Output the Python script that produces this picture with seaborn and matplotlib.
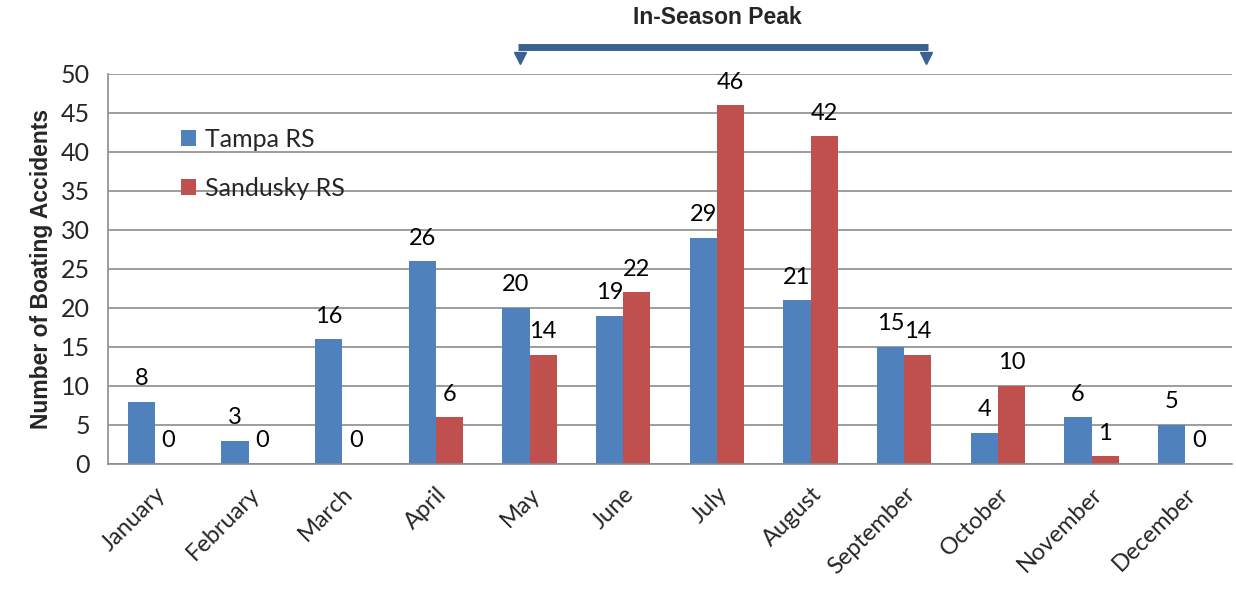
import pandas as pd
import numpy as np
import matplotlib
matplotlib.use("Agg")
import matplotlib.pyplot as plt
import seaborn as sns

months = ["January", "February", "March", "April", "May", "June", "July",
          "August", "September", "October", "November", "December"]
tampa = [8, 3, 16, 26, 20, 19, 29, 21, 15, 4, 6, 5]
sandusky = [0, 0, 0, 6, 14, 22, 46, 42, 14, 10, 1, 0]
series = ["Tampa RS", "Sandusky RS"]
colors = ["#4F81BD", "#C0504D"]

df = pd.DataFrame({
    "Month": months * 2,
    "Accidents": tampa + sandusky,
    "Station": [series[0]] * 12 + [series[1]] * 12,
})

sns.set_style("white")
plt.rcParams["font.family"] = ["Lato", "DejaVu Sans"]

fig = plt.figure(figsize=(12.36, 5.9), dpi=100)
ax = fig.add_axes([0.0874, 0.2136, 0.9094, 0.661])

sns.barplot(data=df, x="Month", y="Accidents", hue="Station", order=months,
            hue_order=series, palette=colors, width=0.58, saturation=1,
            edgecolor="none", ax=ax)

# value labels
for cont in ax.containers:
    ax.bar_label(cont, padding=9, fontsize=17, color="black")

ax.set_ylim(0, 50)
ax.set_xlim(-0.5, 11.5)
ax.set_yticks(np.arange(0, 51, 5))
ax.yaxis.grid(True, color="#8c8c8c", linewidth=1.2)
ax.set_axisbelow(True)
for s in ["top", "right"]:
    ax.spines[s].set_visible(False)
for s in ["left", "bottom"]:
    ax.spines[s].set_color("#8c8c8c")
    ax.spines[s].set_linewidth(1.2)

ax.tick_params(axis="y", length=8, color="#8c8c8c", width=1.2, labelsize=18, pad=5)
ax.tick_params(axis="x", which="major", length=0, labelsize=17, pad=14)
ax.set_xticks(np.arange(-0.5, 12, 1), minor=True)
ax.tick_params(axis="x", which="minor", length=8, color="#8c8c8c", width=1.2)
plt.setp(ax.get_xticklabels(), rotation=45, ha="right", rotation_mode="anchor")

ax.set_xlabel("")
ax.set_ylabel("Number of Boating Accidents", fontsize=16.5, fontweight="bold",
              family="Liberation Sans", labelpad=6)

leg = ax.legend(loc="upper left", bbox_to_anchor=(0.045, 0.92), frameon=False,
                fontsize=18, labelspacing=1.05, handlelength=0.6, handleheight=0.6,
                handletextpad=0.35)

# in-season peak arrow
arrow_c = "#3B6190"
ax.plot([3.88, 8.25], [53.4, 53.4], color=arrow_c, lw=5, clip_on=False,
        solid_capstyle="butt")
ax.plot([3.9, 8.23], [52.0, 52.0], linestyle="none", marker="v", markersize=9,
        color=arrow_c, clip_on=False)
ax.text(6.0, 57.2, "In-Season Peak", ha="center", va="center", fontsize=16.5,
        fontweight="bold", family="Liberation Sans")

fig.savefig("out.png", dpi=100)
